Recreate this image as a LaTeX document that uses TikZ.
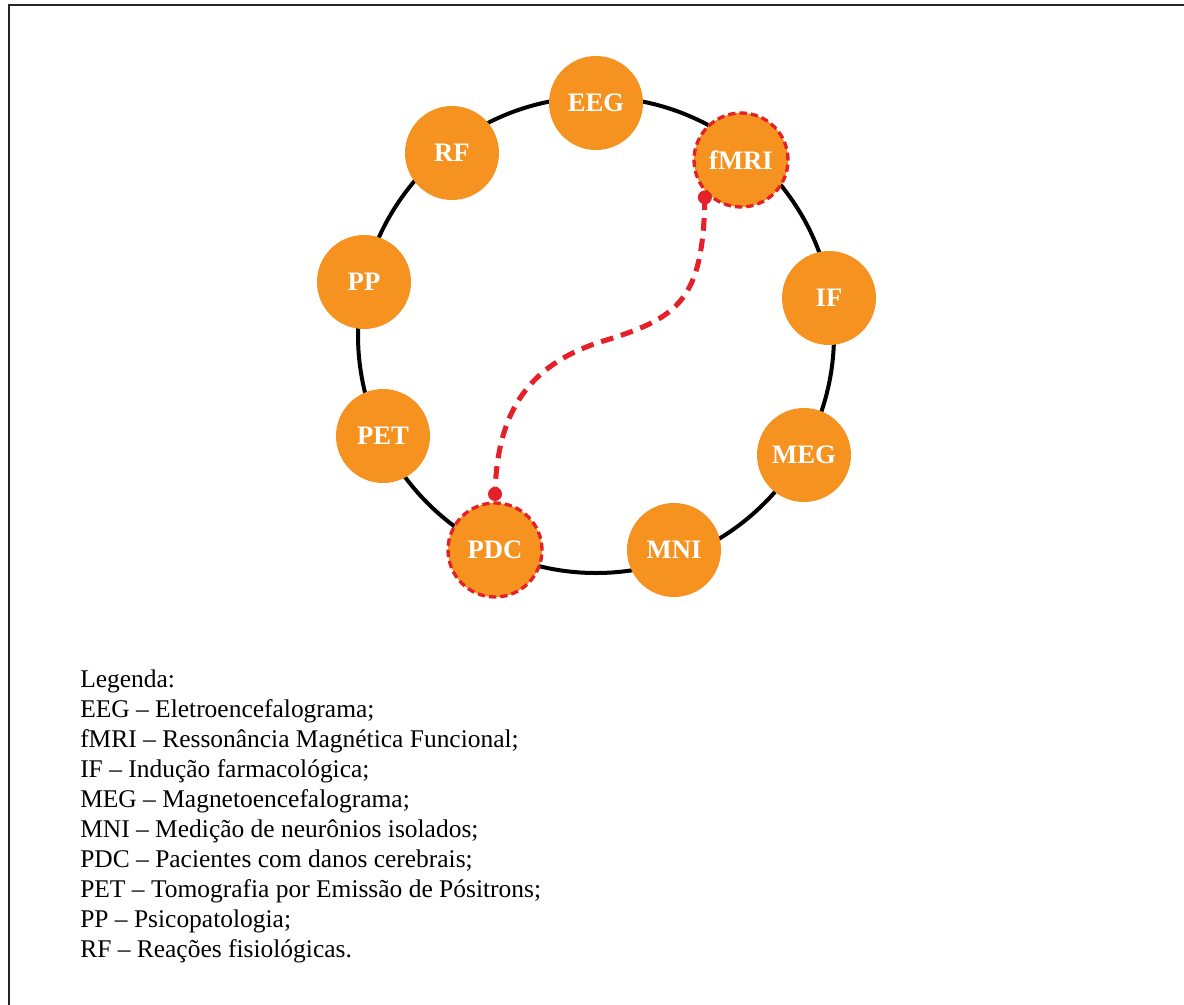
\documentclass[tikz,border=0pt]{standalone}
\usepackage{fontspec}
\setmainfont{Liberation Serif}
\definecolor{nodeorange}{RGB}{245,146,32}
\definecolor{linkred}{RGB}{228,32,40}
\begin{document}
\begin{tikzpicture}[x=0.75pt,y=-0.75pt,
  tech/.style={circle,fill=nodeorange,minimum size=70.5pt,inner sep=0pt,text=white,
    font=\fontsize{20}{20}\selectfont\bfseries},
  hl/.style={draw=linkred,line width=2.5pt,dash pattern=on 5.5pt off 3pt},
  ring/.style={line width=3pt,black},
  link/.style={linkred,line width=3.8pt,dash pattern=on 9.5pt off 6pt},
  dot/.style={circle,fill=linkred,inner sep=0pt,minimum size=10.5pt},
  legend/.style={anchor=base west,inner sep=0pt,font=\fontsize{19.1}{22.5}\selectfont},
  frame/.style={line width=2pt,color=black!85}]
\useasboundingbox (0,0) rectangle (1184,1005);
\draw[frame] (9,1005) -- (9,5) -- (1184,5);
\draw[ring] (596,335) circle[radius=238];
\node[tech] (eeg) at (596,103) {EEG};
\node[tech,hl] (fmri) at (741,160) {fMRI};
\node[tech] (nif) at (829,298) {IF};
\node[tech] (meg) at (804,455) {MEG};
\node[tech] (mni) at (674,550) {MNI};
\node[tech,hl] (pdc) at (495,550) {PDC};
\node[tech] (pet) at (383,436) {PET};
\node[tech] (pp) at (364,282) {PP};
\node[tech] (rf) at (452,153) {RF};
\path (fmri.center) ++(226:39pt) coordinate (d1);
\path (pdc.center) ++(90:42pt) coordinate (d2);
\draw[link] (d1) .. controls (703,300) and (680,318) .. (600,342) .. controls (530,365) and (497,410) .. (d2);
\node[dot] (dot1) at (d1) {};
\node[dot] (dot2) at (d2) {};
\foreach \t [count=\i from 0] in {{Legenda:},
  {EEG – Eletroencefalograma;},
  {fMRI – Ressonância Magnética Funcional;},
  {IF – Indução farmacológica;},
  {MEG – Magnetoencefalograma;},
  {MNI – Medição de neurônios isolados;},
  {PDC – Pacientes com danos cerebrais;},
  {PET – Tomografia por Emissão de Pósitrons;},
  {PP – Psicopatologia;},
  {RF – Reações fisiológicas.}}
  \node[legend] (leg\i) at (80,687+30*\i) {\t};
\end{tikzpicture}
\end{document}
